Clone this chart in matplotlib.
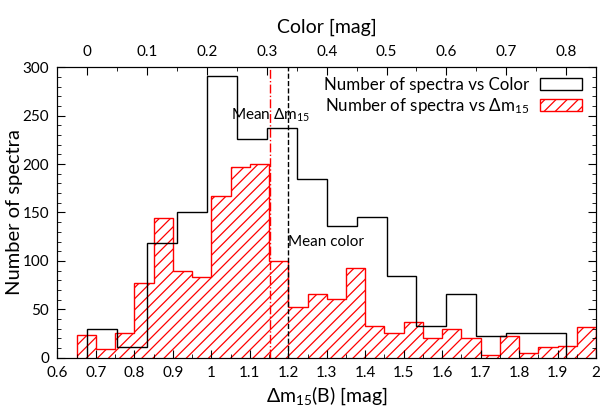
import matplotlib
matplotlib.use("Agg")
import matplotlib.pyplot as plt
from matplotlib.patches import Patch
from matplotlib.ticker import MultipleLocator, FuncFormatter
import numpy as np

plt.rcParams['font.family'] = ['Lato', 'DejaVu Sans']
plt.rcParams['mathtext.fontset'] = 'custom'
plt.rcParams['mathtext.rm'] = 'Lato'
plt.rcParams['mathtext.default'] = 'regular'
plt.rcParams['hatch.color'] = 'red'
plt.rcParams['hatch.linewidth'] = 0.9

# delta m15 histogram (bins of 0.05 mag)
dm15_edges = np.round(np.arange(0.65, 2.0001, 0.05), 2)
dm15_counts = [23, 9, 26, 77, 144, 90, 83, 167, 197, 200,
               100, 52, 66, 61, 93, 33, 25, 37, 20, 30,
               20, 3, 22, 5, 11, 12, 32]

# color histogram (bins of 0.05 mag)
color_edges = np.round(np.arange(0.0, 0.8001, 0.05), 2)
color_counts = [30, 11, 118, 151, 291, 226, 237, 185, 136, 145,
                84, 33, 66, 22, 25, 25]

mean_dm15 = 1.152
mean_color = 0.336

fmt = FuncFormatter(lambda v, p: f"{v:g}")

fig = plt.figure(figsize=(6.02, 4.11), dpi=100)
ax = fig.add_axes([0.0955, 0.1297, 0.8945, 0.7066])

ax.stairs(dm15_counts, dm15_edges, fill=True, facecolor='none',
          edgecolor='red', hatch='///', linewidth=1.0)
ax.axvline(mean_dm15, color='red', linestyle='-.', linewidth=1.0)

ax.set_xlim(0.6, 2.0)
ax.set_ylim(0, 300)
ax.xaxis.set_major_locator(MultipleLocator(0.1))
ax.xaxis.set_minor_locator(MultipleLocator(0.05))
ax.yaxis.set_major_locator(MultipleLocator(50))
ax.yaxis.set_minor_locator(MultipleLocator(10))
ax.xaxis.set_major_formatter(fmt)
ax.tick_params(which='both', direction='in', right=True, labelsize=11, pad=6)
ax.tick_params(which='major', length=6)
ax.tick_params(which='minor', length=3)
ax.set_xlabel(r'$\Delta$m$_{15}$(B) [mag]', fontsize=14, labelpad=3)
ax.set_ylabel('Number of spectra', fontsize=14.5, labelpad=0)

ax.text(1.05, 250, r'Mean $\Delta$m$_{15}$', fontsize=11, va='center', ha='left')
ax.text(1.199, 119, 'Mean color', fontsize=11, va='center', ha='left')

ax2 = ax.twiny()
ax2.stairs(color_counts, color_edges, color='black', linewidth=1.0)
ax2.axvline(mean_color, color='black', linestyle='--', linewidth=1.0)
ax2.set_xlim(-0.05, 0.85)
ax2.xaxis.set_major_locator(MultipleLocator(0.1))
ax2.xaxis.set_minor_locator(MultipleLocator(0.05))
ax2.xaxis.set_major_formatter(fmt)
ax2.tick_params(which='both', direction='in', labelsize=11, pad=6)
ax2.tick_params(which='major', length=6)
ax2.tick_params(which='minor', length=3)
ax2.set_xlabel('Color [mag]', fontsize=14, labelpad=9)

handles = [Patch(facecolor='none', edgecolor='black', linewidth=1.0),
           Patch(facecolor='none', edgecolor='red', hatch='///', linewidth=1.0)]
labels = ['Number of spectra vs Color', r'Number of spectra vs $\Delta$m$_{15}$']
ax2.legend(handles, labels, loc='upper right', bbox_to_anchor=(0.974, 0.967),
           frameon=False, markerfirst=False, fontsize=12.2,
           handlelength=2.45, handleheight=0.72, handletextpad=0.65,
           labelspacing=0.2, borderaxespad=0, borderpad=0)

fig.savefig('out.png', dpi=100)
